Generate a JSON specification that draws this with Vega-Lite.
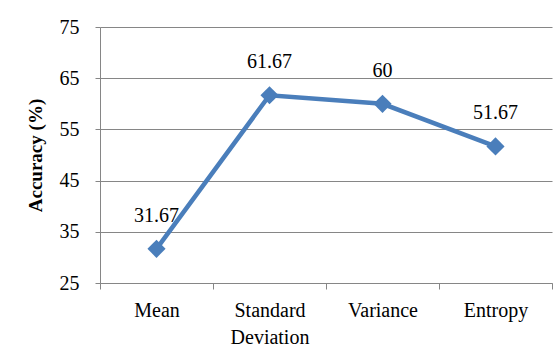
{
  "$schema": "https://vega.github.io/schema/vega-lite/v6.json",
  "width": 452,
  "height": 256,
  "autosize": {"type": "none"},
  "padding": {"left": 100, "top": 27, "right": 2, "bottom": 66},
  "background": "white",
  "config": {
    "view": {"stroke": null},
    "font": "Liberation Serif",
    "axis": {"labelFont": "Liberation Serif", "titleFont": "Liberation Serif", "labelColor": "black", "titleColor": "black"},
    "text": {"font": "Liberation Serif"}
  },
  "data": {
    "values": [
      {"feature": "Mean", "accuracy": 31.67, "label": "31.67"},
      {"feature": "Standard Deviation", "accuracy": 61.67, "label": "61.67"},
      {"feature": "Variance", "accuracy": 60, "label": "60"},
      {"feature": "Entropy", "accuracy": 51.67, "label": "51.67"}
    ]
  },
  "encoding": {
    "x": {
      "field": "feature",
      "type": "nominal",
      "sort": null,
      "scale": {"paddingInner": 0, "paddingOuter": 0},
      "axis": {
        "title": null,
        "labelAngle": 0,
        "labelFontSize": 20,
        "labelLineHeight": 27,
        "labelPadding": 11,
        "labelBaseline": "top",
        "labelExpr": "datum.label == 'Standard Deviation' ? ['Standard', 'Deviation'] : datum.label",
        "domainColor": "#868686",
        "domainWidth": 1,
        "tickColor": "#868686",
        "tickSize": 6,
        "tickBand": "extent",
        "grid": false
      }
    },
    "y": {
      "field": "accuracy",
      "type": "quantitative",
      "scale": {"domain": [25, 75], "nice": false, "zero": false},
      "axis": {
        "title": "Accuracy (%)",
        "titleFontSize": 19,
        "titleFontWeight": "bold",
        "titlePadding": 14,
        "values": [25, 35, 45, 55, 65, 75],
        "labelFontSize": 20,
        "labelPadding": 16,
        "tickSize": 5,
        "tickColor": "#868686",
        "domainColor": "#868686",
        "gridColor": "#868686",
        "gridWidth": 1,
        "gridOpacity": 1
      }
    }
  },
  "layer": [
    {
      "mark": {"type": "line", "color": "#4a7ebb", "strokeWidth": 4.5}
    },
    {
      "mark": {"type": "point", "shape": "diamond", "filled": true, "color": "#4a7ebb", "size": 330, "opacity": 1}
    },
    {
      "mark": {"type": "text", "dy": -33, "fontSize": 20, "color": "black", "font": "Liberation Serif"},
      "encoding": {"text": {"field": "label"}}
    }
  ]
}
